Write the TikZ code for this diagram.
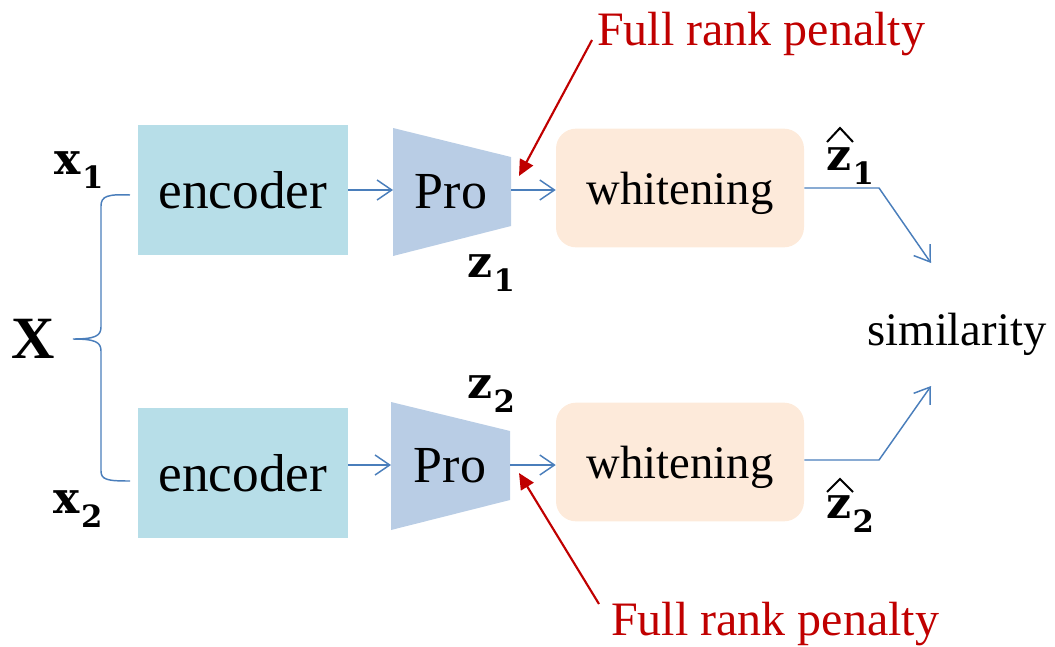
\documentclass[tikz,border=0pt]{standalone}
\usepackage{fontspec}
\setmainfont{Liberation Serif}
\newfontfamily\lblfont{DejaVu Serif}
\usetikzlibrary{arrows.meta}
\definecolor{encblue}{RGB}{183,222,232}
\definecolor{problue}{RGB}{185,205,229}
\definecolor{whpeach}{RGB}{253,234,218}
\definecolor{lineblue}{RGB}{74,126,187}
\definecolor{penred}{RGB}{192,0,0}
\newcommand\lblsub[1]{\kern1pt\raisebox{-10.5pt}{\fontsize{23}{27}\selectfont\textbf{#1}}}
\begin{document}
\begin{tikzpicture}[x=0.75pt,y=-0.75pt,
  encbox/.style={fill=encblue, minimum width=157.5pt, minimum height=98pt, inner sep=0pt, font=\fontsize{40}{48}\selectfont},
  whbox/.style={fill=whpeach, rounded corners=15pt, minimum width=186pt, minimum height=89pt, inner sep=0pt, text depth=0pt, font=\fontsize{35}{42}\selectfont},
  protext/.style={inner sep=0pt, anchor=base, font=\fontsize{39}{46}\selectfont},
  profill/.style={fill=problue},
  barrow/.style={draw=lineblue, line width=1.1pt, -{Straight Barb[length=11pt,width=15pt]}},
  bline/.style={draw=lineblue, line width=1.1pt},
  rarrow/.style={draw=penred, line width=1.6pt, -{Triangle[length=12pt,width=11pt]}},
  redtext/.style={text=penred, inner sep=0pt, anchor=base, font=\fontsize{36}{43}\selectfont},
  lbl/.style={inner sep=0pt, anchor=base west, font=\lblfont\fontsize{33}{40}\selectfont},
  biglbl/.style={inner sep=0pt, anchor=base west, font=\fontsize{45}{54}\selectfont},
  simtext/.style={inner sep=0pt, anchor=base, font=\fontsize{35}{42}\selectfont},
  hatline/.style={draw=black, line width=1.5pt, line join=miter}
]
\useasboundingbox (0,0) rectangle (1055,646);

% encoders
\node[encbox] (e1) at (243,190) {encoder};
\node[encbox] (e2) at (243,473) {encoder};

% projectors (trapezoids)
\fill[profill] (393,128) -- (511,157) -- (511,226) -- (393,256) -- cycle;
\fill[profill] (391,402) -- (510,431) -- (510,500) -- (391,530) -- cycle;
\node[protext] (p1) at (451,208) {Pro};
\node[protext] (p2) at (450,482) {Pro};
\coordinate (p1w) at (393,190);
\coordinate (p1e) at (511,190);
\coordinate (p2w) at (391,465);
\coordinate (p2e) at (510,465);

% whitening
\node[whbox] (w1) at (680,188) {whitening};
\node[whbox] (w2) at (680,462) {whitening};

% arrows
\draw[barrow] (e1.east |- p1w) -- (p1w);
\draw[barrow] (p1e) -- (p1e -| w1.west);
\draw[barrow] (e2.east |- p2w) -- (p2w);
\draw[barrow] (p2e) -- (p2e -| w2.west);

% outputs to similarity
\node[simtext] (sim) at (957,345) {similarity};
\coordinate (c1) at (879,188);
\coordinate (t1) at (931,263);
\coordinate (c2) at (879,460);
\coordinate (t2) at (931,386);
\draw[barrow] (w1.east |- c1) -- (c1) -- (t1);
\draw[barrow] (w2.east |- c2) -- (c2) -- (t2);

% brace
\coordinate (bt) at (130,195);
\coordinate (bm) at (73,339);
\coordinate (bb) at (130,481);
\draw[bline] (bt) .. controls (108,194) and (101,196) .. (101,206) -- (101,327)
  .. controls (101,336) and (95,339) .. (bm)
  .. controls (95,339) and (101,342) .. (101,351) -- (101,471)
  .. controls (101,480) and (108,481) .. (bb);

% labels
\node[biglbl] (X) at (11,358) {\textbf{X}};
\node[lbl] (x1) at (54,174) {\textbf{x}\lblsub{1}};
\node[lbl] (x2) at (53,513) {\textbf{x}\lblsub{2}};
\node[lbl] (z1) at (467,277) {\textbf{z}\lblsub{1}};
\node[lbl] (z2) at (467,398) {\textbf{z}\lblsub{2}};
\node[lbl] (zh1) at (826,170) {\textbf{z}\lblsub{1}};
\node[lbl] (zh2) at (826,518) {\textbf{z}\lblsub{2}};
\draw[hatline] (827,142) -- (840,128) -- (853,142);
\draw[hatline] (827,492) -- (840,479) -- (853,492);

% full rank penalty
\node[redtext] (f1) at (761,45) {Full rank penalty};
\node[redtext] (f2) at (775,635) {Full rank penalty};
\coordinate (f1s) at (592,40);
\coordinate (f1t) at (519,176);
\coordinate (f2s) at (599,604);
\coordinate (f2t) at (519,473);
\draw[rarrow] (f1s) -- (f1t);
\draw[rarrow] (f2s) -- (f2t);
\end{tikzpicture}
\end{document}
